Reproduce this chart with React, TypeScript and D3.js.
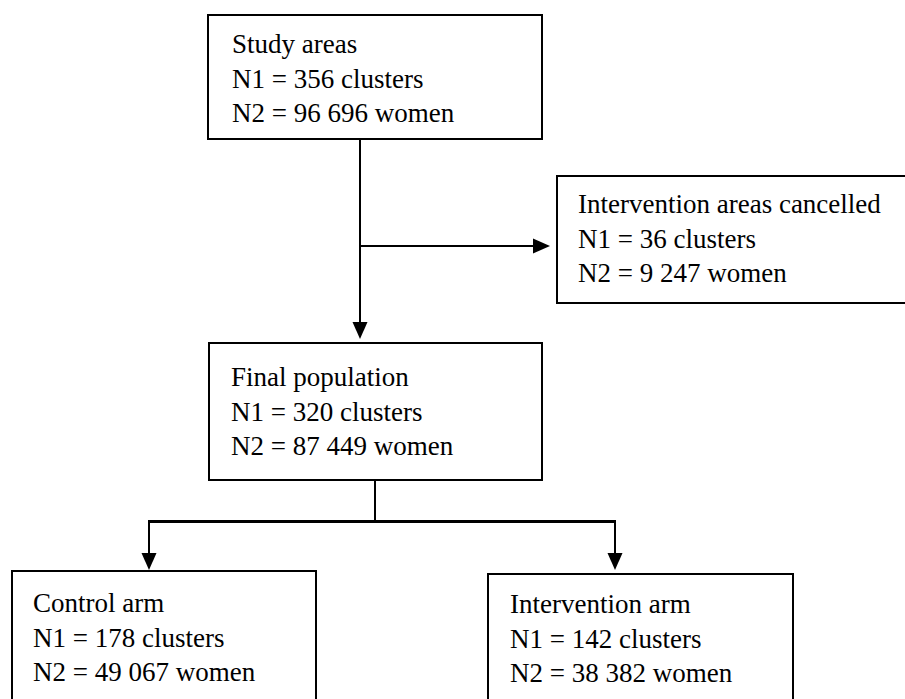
import { useMemo } from "react";
import * as d3 from "d3";

// box titles and counts
const titles = [
    "Study areas",
    "Intervention areas cancelled",
    "Final population",
    "Control arm",
    "Intervention arm",
];
const clusters = [356, 36, 320, 178, 142];
const women = ["96 696", "9 247", "87 449", "49 067", "38 382"];

// layout of boxes (x, y, w, h) in pixels
const layout = [
    { x: 208, y: 15, w: 334, h: 124 },
    { x: 557, y: 176, w: 352, h: 127 },
    { x: 209, y: 343, w: 333, h: 137 },
    { x: 12, y: 571, w: 304, h: 160 },
    { x: 488, y: 574, w: 305, h: 160 },
];
const padLeft = [24, 21, 22, 21, 22];
const firstBaseline = [38, 37, 43, 41, 39];
const lineGap = 34.5;

const FONT = "Liberation Serif, Times New Roman, Times, serif";

export default function App() {
    const line = useMemo(() => d3.line<[number, number]>(), []);

    const boxes = titles.map((t, i) => ({
        ...layout[i],
        lines: [t, `N1 = ${clusters[i]} clusters`, `N2 = ${women[i]} women`],
        px: padLeft[i],
        by: firstBaseline[i],
    }));

    const [study, cancelled, fin, control, interv] = layout;
    const trunkX = 360;
    const splitY = 246;
    const finX = 375;
    const barY = 521.5;
    const leftX = 149;
    const rightX = 615;

    // connectors: [points, arrow at end?, stroke width]
    const connectors: { pts: [number, number][]; arrow: "down" | "right" | null; sw: number }[] = [
        { pts: [[trunkX, study.y + study.h], [trunkX, fin.y - 4]], arrow: "down", sw: 2 },
        { pts: [[trunkX, splitY], [cancelled.x - 7, splitY]], arrow: "right", sw: 2 },
        { pts: [[finX, fin.y + fin.h], [finX, barY]], arrow: null, sw: 2 },
        { pts: [[leftX - 1, barY], [rightX + 1, barY]], arrow: null, sw: 3 },
        { pts: [[leftX, barY], [leftX, control.y - 1]], arrow: "down", sw: 2 },
        { pts: [[rightX, barY], [rightX, interv.y - 4]], arrow: "down", sw: 2 },
    ];

    const head = (x: number, y: number, dir: "down" | "right") => {
        const L = 17;
        const W = 7.5;
        const pts: [number, number][] =
            dir === "down"
                ? [[x - W, y - L], [x + W, y - L], [x, y]]
                : [[x - L, y - W], [x - L, y + W], [x, y]];
        return line(pts) + "Z";
    };

    return (
        <svg
            width={905}
            height={699}
            style={{ display: "block", position: "absolute", left: 0, top: 0, background: "#fff" }}
        >
            <g>
                {connectors.map((c, i) => {
                    const end = c.pts[c.pts.length - 1];
                    const shaft: [number, number][] = c.arrow
                        ? c.pts.map((p, j) =>
                              j === c.pts.length - 1
                                  ? c.arrow === "down"
                                      ? [p[0], p[1] - 10]
                                      : [p[0] - 10, p[1]]
                                  : p
                          )
                        : c.pts;
                    return (
                        <g key={i}>
                            <path d={line(shaft) || ""} stroke="#000" strokeWidth={c.sw} fill="none" />
                            {c.arrow && <path d={head(end[0], end[1], c.arrow)} fill="#000" />}
                        </g>
                    );
                })}
            </g>
            {boxes.map((b, i) => (
                <g key={i}>
                    <rect x={b.x} y={b.y} width={b.w} height={b.h} fill="none" stroke="#000" strokeWidth={2} />
                    {b.lines.map((t, j) => (
                        <text
                            key={j}
                            x={b.x + b.px}
                            y={b.y + b.by + j * lineGap}
                            style={{ fontFamily: FONT, fontSize: "27px" }}
                            fill="#000"
                        >
                            {t}
                        </text>
                    ))}
                </g>
            ))}
        </svg>
    );
}
